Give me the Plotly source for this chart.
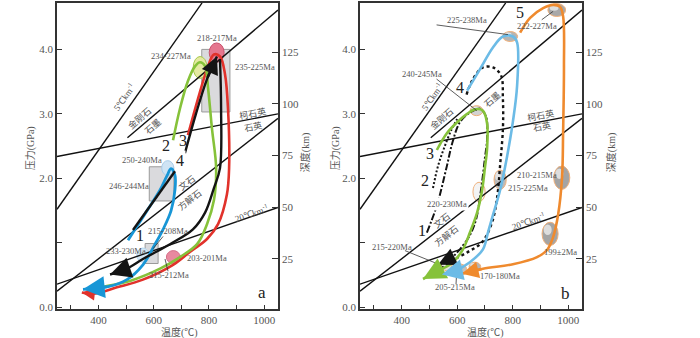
import plotly.graph_objects as go

# ---------------- axes ----------------
T_RANGE = [250, 1050]
P_RANGE = [-0.03, 4.72]
DEPTH_RANGE = [0.6, 148.9]
T_TICKS = [300, 400, 500, 600, 700, 800, 900, 1000]
T_LABELS = ["", "400", "", "600", "", "800", "", "1000"]
P_TICKS = [0, 1, 2, 3, 4]
P_LABELS = ["0.0", "", "2.0", "3.0", "4.0"]
DEPTH_TICKS = [25, 50, 75, 100, 125]

# ---------------- reference lines (T degC, P GPa) ----------------
geo5_T = [250, 775];   geo5_P = [1.52, 4.72]
diam_T = [505, 1050];  diam_P = [2.63, 4.61]
coes_T = [250, 1050];  coes_P = [2.34, 3.00]
arag_T = [250, 1050];  arag_P = [0.25, 2.93]
geo20_T = [250, 1050]; geo20_P = [0.36, 1.55]

# ---------------- panel a paths ----------------
a_red_T = [724, 760, 793, 818, 840, 858, 869, 873, 865, 833, 793, 731, 670, 561, 467, 380, 340]
a_red_P = [2.67, 3.23, 3.69, 3.92, 3.89, 3.62, 3.08, 2.16, 1.75, 1.29, 1.06, 0.86, 0.66, 0.43, 0.31, 0.21, 0.23]
a_green_T = [670, 695, 724, 750, 768, 786, 797, 811, 826, 818, 793, 757, 695, 623, 514, 406, 362]
a_green_P = [2.59, 3.08, 3.51, 3.74, 3.80, 3.74, 3.39, 2.77, 2.16, 1.66, 1.29, 0.98, 0.78, 0.60, 0.41, 0.31, 0.27]
a_blue_T = [507, 576, 623, 648, 663, 677, 677, 663, 634, 605, 561, 503, 435, 344]
a_blue_P = [1.04, 1.50, 1.82, 2.04, 2.15, 2.05, 1.82, 1.50, 1.21, 0.98, 0.66, 0.43, 0.32, 0.28]
a_black0_T = [525, 677]
a_black0_P = [1.20, 2.11]
a_black1_T = [713, 753, 793, 829]
a_black1_P = [2.39, 3.00, 3.54, 3.89]
a_black2_T = [840, 844, 840, 818, 786, 742, 659, 561, 503, 442]
a_black2_P = [3.85, 3.08, 2.16, 1.85, 1.47, 1.21, 0.98, 0.75, 0.60, 0.51]

# age boxes panel a (T0, T1, P0, P1)
a_box_T0 = [774, 584, 569]
a_box_T1 = [876, 673, 616]
a_box_P0 = [3.03, 1.65, 0.68]
a_box_P1 = [4.00, 2.18, 0.99]
# age ellipses panel a (centre, half widths)
a_ell_T = [828, 768, 651, 561, 671]
a_ell_P = [3.95, 3.72, 2.16, 0.81, 0.78]
a_ell_dT = [27, 25, 22, 22, 25]
a_ell_dP = [0.15, 0.17, 0.115, 0.11, 0.10]
a_ell_fill = ["#e5768e", "#e4e9a2", "#cfe4f4", "#d6e8f5", "#e9899f"]
a_ell_line = ["#c9506c", "#a6c848", "#a9cde9", "#b5d6ee", "#d56f88"]

a_labels = ["218-217Ma", "234-227Ma", "235-225Ma", "250-240Ma", "246-244Ma",
            "215-208Ma", "233-230Ma", "203-201Ma", "215-212Ma"]
a_lab_T = [829, 663, 967, 558, 511, 652, 500, 793, 655]
a_lab_P = [4.18, 3.89, 3.72, 2.29, 1.88, 1.18, 0.87, 0.76, 0.50]

a_nums = ["2", "3", "4", "1"]
a_num_T = [645, 706, 695, 549]
a_num_P = [2.51, 2.59, 2.27, 1.11]

# ---------------- panel b paths ----------------
b_orange_T = [827, 863, 910, 946, 971, 982, 985, 982, 978, 964, 946, 924, 888, 801, 693, 617]
b_orange_P = [4.26, 4.49, 4.64, 4.69, 4.66, 4.51, 3.74, 2.73, 2.01, 1.44, 1.09, 0.89, 0.78, 0.67, 0.60, 0.52]
b_blue_T = [636, 682, 729, 765, 801, 816, 816, 801, 780, 755, 729, 711, 693, 646, 585, 545]
b_blue_P = [3.36, 3.69, 4.03, 4.20, 4.20, 4.11, 3.43, 2.88, 2.34, 1.82, 1.43, 1.16, 0.90, 0.70, 0.55, 0.51]
b_dot_T = [634, 657, 693, 729, 758, 765, 765, 755, 744, 726, 690, 639, 581, 545]
b_dot_P = [3.30, 3.54, 3.72, 3.72, 3.60, 3.23, 2.77, 2.21, 1.70, 1.32, 1.01, 0.86, 0.72, 0.61]
b_green_T = [527, 563, 600, 636, 664, 693, 708, 708, 700, 690, 672, 646, 621, 585, 538, 477]
b_green_P = [2.44, 2.70, 2.87, 3.00, 3.07, 3.05, 2.85, 2.47, 2.16, 1.82, 1.47, 1.16, 0.90, 0.70, 0.58, 0.44]
b_dd_T = [491, 527, 563, 582, 610, 646, 682, 704, 708, 700, 686, 668, 646, 610, 574, 531]
b_dd_P = [1.16, 1.58, 2.19, 2.54, 2.87, 3.02, 3.08, 2.96, 2.62, 2.31, 1.82, 1.36, 1.12, 0.90, 0.75, 0.66]
b_p2_T = [513, 531, 553, 578, 600]
b_p2_P = [1.85, 2.19, 2.47, 2.74, 2.92]

b_ell_T = [959, 791, 670, 679, 755, 977, 935, 603, 664, 562]
b_ell_P = [4.61, 4.20, 3.05, 1.79, 1.98, 2.01, 1.14, 0.60, 0.63, 0.65]
b_ell_dT = [32, 27, 23, 22, 22, 29, 29, 31, 21, 18]
b_ell_dP = [0.10, 0.077, 0.077, 0.15, 0.15, 0.18, 0.18, 0.077, 0.07, 0.08]
b_ell_fill = ["#a8a8a8", "#b4b4b4", "#d2d2d2", "#f2f2f2", "#bababa",
              "#a4a4a4", "#a4a4a4", "#c0c0c0", "#b4b4b4", "#e2e2e2"]

b_labels = ["225-238Ma", "222-227Ma", "240-245Ma", "210-215Ma", "215-225Ma",
            "199±2Ma", "215-220Ma", "170-180Ma", "205-215Ma"]
b_lab_T = [635, 887, 472, 887, 857, 971, 364, 755, 592]
b_lab_P = [4.46, 4.36, 3.62, 2.06, 1.85, 0.86, 0.93, 0.48, 0.31]

b_nums = ["5", "4", "3", "2", "1"]
b_num_T = [827, 610, 502, 484, 472]
b_num_P = [4.57, 3.41, 2.39, 1.96, 1.19]

SERIF = "Liberation Serif"
CJK = "Noto Sans CJK SC"
GREY = "#555555"

fig = go.Figure()


def add_line(T, P, xa, ya, color, width, dash="solid", shape="spline"):
    fig.add_trace(go.Scatter(x=T, y=P, xaxis=xa, yaxis=ya, mode="lines",
                             line=dict(color=color, width=width, dash=dash,
                                       shape=shape, smoothing=1.0),
                             hoverinfo="skip", showlegend=False))


annotations = []


def arrow(T, P, xa, ya, color, width, size, back=1):
    annotations.append(dict(x=T[-1], y=P[-1], ax=T[-1 - back], ay=P[-1 - back],
                            xref=xa, yref=ya, axref=xa, ayref=ya, text="",
                            showarrow=True, arrowhead=2, arrowsize=size,
                            arrowwidth=width, arrowcolor=color, standoff=0))


def text(t, T, P, xa, ya, size=9, angle=0, font=SERIF, color=GREY, bg=None, xanchor="center"):
    d = dict(x=T, y=P, xref=xa, yref=ya, text=t, showarrow=False, textangle=angle,
             font=dict(family=font, size=size, color=color), xanchor=xanchor,
             yanchor="middle")
    if bg:
        d["bgcolor"] = bg
        d["borderpad"] = 1
    annotations.append(d)


shapes = []

for xa, ya in [("x", "y"), ("x2", "y3")]:
    add_line(geo5_T, geo5_P, xa, ya, "#111", 1.4, shape="linear")
    add_line(diam_T, diam_P, xa, ya, "#111", 1.4, shape="linear")
    add_line(coes_T, coes_P, xa, ya, "#111", 1.4, shape="linear")
    add_line(arag_T, arag_P, xa, ya, "#111", 1.4, shape="linear")
    add_line(geo20_T, geo20_P, xa, ya, "#111", 1.4, shape="linear")

# depth axes dummies
fig.add_trace(go.Scatter(x=[None], y=[None], xaxis="x", yaxis="y2", showlegend=False))
fig.add_trace(go.Scatter(x=[None], y=[None], xaxis="x2", yaxis="y4", showlegend=False))

# ---------- panel a ----------
for i in range(len(a_box_T0)):
    shapes.append(dict(type="rect", xref="x", yref="y", x0=a_box_T0[i], x1=a_box_T1[i],
                       y0=a_box_P0[i], y1=a_box_P1[i], fillcolor="rgba(205,205,210,0.75)",
                       line=dict(color="#9a9a9a", width=1), layer="below"))
for i in range(len(a_ell_T)):
    shapes.append(dict(type="circle", xref="x", yref="y",
                       x0=a_ell_T[i] - a_ell_dT[i], x1=a_ell_T[i] + a_ell_dT[i],
                       y0=a_ell_P[i] - a_ell_dP[i], y1=a_ell_P[i] + a_ell_dP[i],
                       fillcolor=a_ell_fill[i], line=dict(color=a_ell_line[i], width=1),
                       layer="below"))

RED = "#e1322b"; GREEN = "#86c23a"; BLUE_A = "#1896d6"; BLACK = "#141414"
add_line(a_red_T, a_red_P, "x", "y", RED, 2.6)
add_line(a_green_T, a_green_P, "x", "y", GREEN, 2.6)
add_line(a_blue_T, a_blue_P, "x", "y", BLUE_A, 2.8)
add_line(a_black0_T, a_black0_P, "x", "y", BLACK, 2.4, shape="linear")
add_line(a_black1_T, a_black1_P, "x", "y", BLACK, 2.4)
add_line(a_black2_T, a_black2_P, "x", "y", BLACK, 2.4)
arrow(a_red_T, a_red_P, "x", "y", RED, 2.6, 1.0)
arrow(a_blue_T, a_blue_P, "x", "y", BLUE_A, 3, 1.45)
arrow(a_black1_T, a_black1_P, "x", "y", BLACK, 2.5, 1.4)
arrow(a_black2_T, a_black2_P, "x", "y", BLACK, 2.8, 1.5)

for t, T, P in zip(a_labels, a_lab_T, a_lab_P):
    text(t, T, P, "x", "y", size=8.5)
for t, T, P in zip(a_nums, a_num_T, a_num_P):
    text(t, T, P, "x", "y", size=16, color="#222", bg="white" if t == "4" else None)
text("a", 992, 0.23, "x", "y", size=17, color="#222")
text("5℃km<sup>-1</sup>", 492, 3.26, "x", "y", size=9, angle=-55)
text("金刚石", 547, 2.93, "x", "y", size=9, angle=-41, font=CJK)
text("石墨", 596, 2.80, "x", "y", size=9, angle=-41, font=CJK)
text("柯石英", 956, 3.01, "x", "y", size=9, angle=-11, font=CJK)
text("石英", 960, 2.81, "x", "y", size=9, angle=-11, font=CJK)
text("文石", 721, 1.93, "x", "y", size=9, angle=-38, font=CJK)
text("方解石", 731, 1.67, "x", "y", size=9, angle=-38, font=CJK)
text("20℃km<sup>-1</sup>", 955, 1.47, "x", "y", size=9, angle=-19)
# leader lines a
for (x0, y0, x1, y1) in [(634, 1.10, 598, 0.91), (641, 0.75, 652, 0.56)]:
    shapes.append(dict(type="line", xref="x", yref="y", x0=x0, y0=y0, x1=x1, y1=y1,
                       line=dict(color="#333", width=0.8)))

# ---------- panel b ----------
for i in range(len(b_ell_T)):
    shapes.append(dict(type="circle", xref="x2", yref="y3",
                       x0=b_ell_T[i] - b_ell_dT[i], x1=b_ell_T[i] + b_ell_dT[i],
                       y0=b_ell_P[i] - b_ell_dP[i], y1=b_ell_P[i] + b_ell_dP[i],
                       fillcolor=b_ell_fill[i], line=dict(color="#f0b07a", width=1),
                       layer="below"))
    shapes.append(dict(type="circle", xref="x2", yref="y3",
                       x0=b_ell_T[i] - 0.8 * b_ell_dT[i], x1=b_ell_T[i] + 0.2 * b_ell_dT[i],
                       y0=b_ell_P[i] - 0.1 * b_ell_dP[i], y1=b_ell_P[i] + 0.8 * b_ell_dP[i],
                       fillcolor="rgba(245,245,245,0.7)", line=dict(width=0),
                       layer="below"))

ORANGE = "#ef8a2e"; BLUE_B = "#6cbbe6"
add_line(b_orange_T, b_orange_P, "x2", "y3", ORANGE, 2.6)
add_line(b_dd_T, b_dd_P, "x2", "y3", BLACK, 2.0, dash="7px,2px,2px,2px")
add_line(b_p2_T, b_p2_P, "x2", "y3", BLACK, 2.0, dash="2px,2px")
add_line(b_dot_T, b_dot_P, "x2", "y3", BLACK, 2.4, dash="3px,3px")
add_line(b_green_T, b_green_P, "x2", "y3", GREEN, 2.6)
add_line(b_blue_T, b_blue_P, "x2", "y3", BLUE_B, 2.6)
arrow(b_orange_T, b_orange_P, "x2", "y3", ORANGE, 2.8, 1.2)
arrow(b_dd_T, b_dd_P, "x2", "y3", BLACK, 2.8, 1.3)
arrow(b_green_T, b_green_P, "x2", "y3", GREEN, 3, 1.5)
arrow(b_blue_T, b_blue_P, "x2", "y3", BLUE_B, 3, 1.4)

for t, T, P in zip(b_labels, b_lab_T, b_lab_P):
    text(t, T, P, "x2", "y3", size=8.5)
text("220-230Ma", 562, 1.60, "x2", "y3", size=8.5, bg="white")
for t, T, P in zip(b_nums, b_num_T, b_num_P):
    text(t, T, P, "x2", "y3", size=16, color="#222")
text("b", 989, 0.22, "x2", "y3", size=17, color="#222")
text("5℃km<sup>-1</sup>", 508, 3.26, "x2", "y3", size=9, angle=-55)
text("金刚石", 544, 2.93, "x2", "y3", size=9, angle=-41, font=CJK)
text("石墨", 725, 3.23, "x2", "y3", size=9, angle=-41, font=CJK)
text("柯石英", 899, 2.98, "x2", "y3", size=9, angle=-11, font=CJK)
text("石英", 905, 2.80, "x2", "y3", size=9, angle=-11, font=CJK)
text("文石", 544, 1.34, "x2", "y3", size=9, angle=-38, font=CJK)
text("方解石", 562, 1.11, "x2", "y3", size=9, angle=-38, font=CJK)
text("20℃km<sup>-1</sup>", 857, 1.34, "x2", "y3", size=9, angle=-19)
for (x0, y0, x1, y1) in [(526, 4.38, 783, 4.23), (905, 4.46, 946, 4.59),
                         (526, 3.54, 671, 3.05), (412, 0.88, 544, 0.65),
                         (598, 0.52, 596, 0.36)]:
    shapes.append(dict(type="line", xref="x2", yref="y3", x0=x0, y0=y0, x1=x1, y1=y1,
                       line=dict(color="#333", width=0.8)))

# axis titles
TITLE_FONT = dict(family=SERIF + ", " + CJK, size=10, color=GREY)
for cx in [30, 335]:
    annotations.append(dict(x=cx / 700, y=1 - 150 / 338, xref="paper", yref="paper",
                            text="压力(GPa)", showarrow=False, textangle=-90,
                            xanchor="center", yanchor="middle", font=TITLE_FONT))
for cx in [305, 611]:
    annotations.append(dict(x=cx / 700, y=1 - 155 / 338, xref="paper", yref="paper",
                            text="深度(km)", showarrow=False, textangle=-90,
                            xanchor="center", yanchor="middle", font=TITLE_FONT))
for cx in [180, 485]:
    annotations.append(dict(x=cx / 700, y=1 - 336 / 338, xref="paper", yref="paper",
                            text="温度(℃)", showarrow=False,
                            xanchor="center", yanchor="middle", font=TITLE_FONT))

tickfont = dict(family=SERIF, size=11, color=GREY)
common_x = dict(range=T_RANGE, tickvals=T_TICKS, ticktext=T_LABELS, ticks="inside",
                ticklen=5, tickcolor="#333", showline=True, mirror=True, linecolor="#333",
                linewidth=1.5, showgrid=False, zeroline=False, tickfont=tickfont)
common_y = dict(range=P_RANGE, tickvals=P_TICKS, ticktext=P_LABELS, ticks="inside",
                ticklen=5, tickcolor="#333", showline=True, mirror=True, linecolor="#333",
                linewidth=1.5, showgrid=False, zeroline=False, tickfont=tickfont)
common_d = dict(range=DEPTH_RANGE, tickvals=DEPTH_TICKS, ticks="inside", ticklen=6,
                tickcolor="#333", showline=True, linecolor="#333", linewidth=1.5,
                showgrid=False, zeroline=False, side="right", tickfont=tickfont)

ydom = [1 - 313 / 338, 1 - 3 / 338]
fig.update_layout(
    width=700, height=338, margin=dict(l=0, r=0, t=0, b=0),
    paper_bgcolor="white", plot_bgcolor="white", showlegend=False,
    xaxis=dict(domain=[57 / 700, 278 / 700], anchor="y", **common_x),
    yaxis=dict(domain=ydom, anchor="x", **common_y),
    yaxis2=dict(overlaying="y", anchor="x", **common_d),
    xaxis2=dict(domain=[360 / 700, 582 / 700], anchor="y3", **common_x),
    yaxis3=dict(domain=ydom, anchor="x2", **common_y),
    yaxis4=dict(overlaying="y3", anchor="x2", **common_d),
    annotations=annotations, shapes=shapes,
)

fig.write_html("out.html", config={"displayModeBar": False},
               post_script="document.body.style.margin='0';document.body.style.overflow='hidden';")
